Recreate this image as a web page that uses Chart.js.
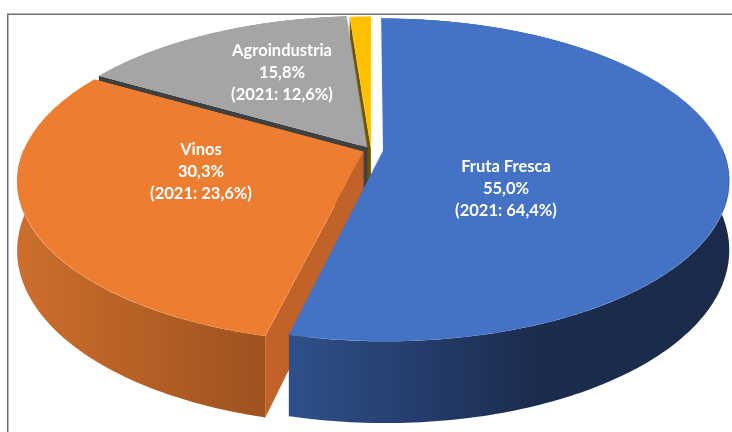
<!DOCTYPE html>
<html><head><meta charset="utf-8">
<script src="https://cdn.jsdelivr.net/npm/chart.js@4"></script>
<style>
html,body{margin:0;padding:0;background:#fff;}
#wrap{width:732px;height:432px;overflow:hidden;position:relative;}
canvas{display:block;}
</style></head><body>
<div id="wrap"><canvas id="c" width="732" height="780"></canvas></div>
<script>
// ---- data ----
const categories = ['Fruta Fresca', 'Vinos', 'Agroindustria', 'Otros'];
const values2022 = [55.0, 30.3, 15.8, 1.2];
const values2021 = [64.4, 23.6, 12.6, null];
const showLabel = [true, true, true, false];

// ---- styles ----
const topColors = ['#4472C4', '#ED7D31', '#A5A5A5', '#FFC000'];
const faceColors = ['#2f5597', '#c0622a', '#404040', '#6e5400'];
const wallStops = [
  [[0, '#2e508b'], [0.55, '#1c2c4f'], [1, '#1b2a4a']],
  [[0, '#cd6e2d'], [1, '#9d521e']],
  [[0, '#7b7b7b'], [1, '#6b6b6b']],
  [[0, '#bf9000'], [1, '#a07800']]
];
const explode = [12, 8, 7, 4];          // radial explosion in the pie plane (px)
const labelAnchor = [[506, 172], [201, 155], [282, 56]]; // first-line baselines
const VIEW = {cx: 371, cy: 150, b: 0.459, p: 0.18, H: 67, W: 732, Hh: 432};

function pct(v) { return v.toFixed(1).replace('.', ',') + '%'; }

function proj(u, v, R) {
  const w = 1 / (1 - VIEW.p * v / R);
  return [VIEW.cx + u * w, VIEW.cy + v * VIEW.b * w, w];
}

const pie3d = {
  id: 'pie3d',
  beforeDatasetsDraw(chart) {
    const meta = chart.getDatasetMeta(0);
    const ctx = chart.ctx;
    meta.data.forEach((arc, i) => {
      const mid = (arc.startAngle + arc.endAngle) / 2;
      ctx.save();
      ctx.translate(Math.cos(mid) * explode[i], Math.sin(mid) * explode[i]);
      arc.draw(ctx);
      ctx.restore();
    });
    return false;
  },
  afterDraw(chart) {
    const cv = chart.canvas;
    const ctx = chart.ctx;
    const snap = document.createElement('canvas');
    snap.width = cv.width; snap.height = cv.height;
    snap.getContext('2d').drawImage(cv, 0, 0);
    const meta = chart.getDatasetMeta(0);
    const arcs = meta.data;
    const Cx = arcs[0].x, Cy = arcs[0].y, R = arcs[0].outerRadius;

    ctx.save();
    ctx.setTransform(1, 0, 0, 1, 0, 0);
    ctx.clearRect(0, 0, cv.width, cv.height);
    ctx.fillStyle = '#ffffff';
    ctx.fillRect(0, 0, cv.width, cv.height);

    // frame
    ctx.strokeStyle = '#6f6f6f';
    ctx.lineWidth = 1.5;
    ctx.beginPath();
    ctx.moveTo(7.75, 432); ctx.lineTo(7.75, 14.25); ctx.lineTo(732, 14.25);
    ctx.stroke();

    const geo = arcs.map((arc, i) => {
      const mid = (arc.startAngle + arc.endAngle) / 2;
      return {arc, i, tx: Math.cos(mid) * explode[i], ty: Math.sin(mid) * explode[i]};
    });

    // radial faces, back to front
    const faces = [];
    geo.forEach(g => {
      const {arc, i, tx, ty} = g;
      if (Math.cos(arc.startAngle) < -0.01) faces.push({g, a: arc.startAngle});
      if (Math.cos(arc.endAngle) > 0.01) faces.push({g, a: arc.endAngle});
    });
    faces.forEach(f => { f.depth = f.g.ty + Math.sin(f.a) * R / 2; });
    faces.sort((x, y) => x.depth - y.depth);
    faces.forEach(f => {
      const {i, tx, ty} = f.g;
      const a = f.a;
      const A = proj(tx, ty, R);
      const E = proj(tx + R * Math.cos(a), ty + R * Math.sin(a), R);
      ctx.fillStyle = faceColors[i];
      ctx.beginPath();
      ctx.moveTo(A[0], A[1]);
      ctx.lineTo(E[0], E[1]);
      ctx.lineTo(E[0], E[1] + VIEW.H * E[2]);
      ctx.lineTo(A[0], A[1] + VIEW.H * A[2]);
      ctx.closePath();
      ctx.fill();
    });

    // front curved walls
    geo.forEach(g => {
      const {arc, i, tx, ty} = g;
      const pts = [];
      const n = 200;
      for (let k = 0; k <= n; k++) {
        const a = arc.startAngle + (arc.endAngle - arc.startAngle) * k / n;
        if (Math.sin(a) < -0.02) continue;
        pts.push(proj(tx + R * Math.cos(a), ty + R * Math.sin(a), R));
      }
      if (pts.length < 2) return;
      let minX = Infinity, maxX = -Infinity;
      pts.forEach(p => { minX = Math.min(minX, p[0]); maxX = Math.max(maxX, p[0]); });
      const grad = ctx.createLinearGradient(minX, 0, maxX, 0);
      wallStops[i].forEach(s => grad.addColorStop(s[0], s[1]));
      ctx.fillStyle = grad;
      ctx.beginPath();
      pts.forEach((p, k) => k ? ctx.lineTo(p[0], p[1]) : ctx.moveTo(p[0], p[1]));
      for (let k = pts.length - 1; k >= 0; k--) ctx.lineTo(pts[k][0], pts[k][1] + VIEW.H * pts[k][2]);
      ctx.closePath();
      ctx.fill();
    });

    // top faces: perspective warp of the library-drawn pie, row by row
    ctx.imageSmoothingEnabled = true;
    for (let yd = 0; yd < VIEW.Hh; yd++) {
      const D = (yd + 0.5 - VIEW.cy) / VIEW.b;
      const v = D / (1 + D * VIEW.p / R);
      const w = 1 / (1 - VIEW.p * v / R);
      const dv = 1 / (VIEW.b * w * w);
      const ys = Cy + v - dv / 2;
      if (ys < 0 || ys + dv > snap.height) continue;
      ctx.drawImage(snap, 0, ys, snap.width, dv, VIEW.cx - Cx * w, yd, snap.width * w, 1);
    }

    // labels
    ctx.fillStyle = '#ffffff';
    ctx.textAlign = 'center';
    ctx.textBaseline = 'alphabetic';
    ctx.font = 'bold 16px Lato';
    const m = ctx.measureText('Agroindustria').width;
    const fs = 16 * 100 / m;
    ctx.font = 'bold ' + fs.toFixed(2) + 'px Lato';
    categories.forEach((c, i) => {
      if (!showLabel[i]) return;
      const lines = [c, pct(values2022[i]), '(2021: ' + pct(values2021[i]) + ')'];
      const [x, y] = labelAnchor[i];
      lines.forEach((t, k) => ctx.fillText(t, x, y + k * 21.8));
    });
    ctx.restore();
  }
};

new Chart(document.getElementById('c'), {
  type: 'pie',
  data: {
    labels: categories,
    datasets: [{
      data: values2022,
      backgroundColor: topColors,
      borderWidth: 0
    }]
  },
  options: {
    responsive: false,
    animation: false,
    devicePixelRatio: 1,
    radius: 340,
    layout: {padding: 0},
    plugins: {legend: {display: false}, tooltip: {enabled: false}}
  },
  plugins: [pie3d]
});
</script>
</body></html>
